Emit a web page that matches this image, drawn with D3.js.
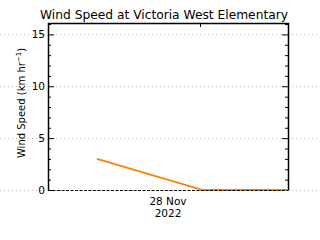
<!DOCTYPE html>
<html>
<head>
<meta charset="UTF-8" />
<script src="https://d3js.org/d3.v7.min.js"></script>
<style>
	body { margin: 0; background: #fff; }
	text { font-family: "DejaVu Sans", sans-serif; fill: #000; }
</style>
</head>
<body>
<svg id="chart" width="320" height="240"></svg>
<script>
// data, hours from start of plotted window
var hours = [4.9, 15.5, 24]
var speeds = [3, 0, 0]
var yTicks = [0, 5, 10, 15]
var yMinor = d3.range(0, 17, 1)
var dayTickHour = [15.2]
var dayLabelHour = 12
var dayLabel = ["28 Nov", "2022"]
var title = "Wind Speed at Victoria West Elementary"

var svg = d3.select("#chart")
var pLeft = 48, pRight = 288, pTop = 23, pBottom = 190

var x = d3.scaleLinear().domain([0, 24]).range([pLeft, pRight])
var y = d3.scaleLinear().domain([0, 16.1]).range([pBottom, pTop])

// dotted grid across whole width
svg.selectAll(".grid").data(yTicks).enter().append("line")
	.attr("x1", 0).attr("x2", 320)
	.attr("y1", d => Math.round(y(d)) + 0.5).attr("y2", d => Math.round(y(d)) + 0.5)
	.attr("stroke", "#bbb").attr("stroke-dasharray", "1,3")

// left / right axes with minor ticks
var gl = svg.append("g").attr("transform", "translate(" + pLeft + ",0)")
	.call(d3.axisRight(y).tickValues(yMinor).tickSize(3).tickFormat(""))
gl.selectAll(".tick").filter(d => d % 5 == 0).select("line").attr("x2", 6)
gl.select(".domain").remove()
var gr = svg.append("g").attr("transform", "translate(" + pRight + ",0)")
	.call(d3.axisLeft(y).tickValues(yMinor).tickSize(3).tickFormat(""))
gr.selectAll(".tick").filter(d => d % 5 == 0).select("line").attr("x2", -6)
gr.select(".domain").remove()
svg.selectAll(".tick line").attr("stroke", "#000").attr("stroke-width", 1)

// box
svg.append("path")
	.attr("d", "M" + (pLeft + 0.5) + "," + (pBottom + 0.5) + "V" + (pTop + 0.5) + "H" + (pRight + 0.5) + "V" + (pBottom + 0.5))
	.attr("fill", "none").attr("stroke", "#000").attr("stroke-width", 1.5)

// y labels
svg.selectAll(".ylab").data(yTicks).enter().append("text")
	.attr("x", pLeft - 3).attr("y", d => y(d) + 4)
	.attr("text-anchor", "end").attr("font-size", 10.5)
	.text(d => d)

// top day tick
svg.selectAll(".dtick").data(dayTickHour).enter().append("line")
	.attr("x1", d => Math.round(x(d)) + 0.5).attr("x2", d => Math.round(x(d)) + 0.5)
	.attr("y1", pTop).attr("y2", pTop + 4).attr("stroke", "#000")

// data line
var line = d3.line().x((d, i) => x(hours[i])).y(d => y(d))
svg.append("path").datum(speeds)
	.attr("d", line).attr("fill", "none")
	.attr("stroke", "#ff8000").attr("stroke-width", 1.8)

// dashed zero line
svg.append("line")
	.attr("x1", pLeft).attr("x2", pRight)
	.attr("y1", pBottom + 0.5).attr("y2", pBottom + 0.5)
	.attr("stroke", "#000").attr("stroke-dasharray", "3,1.5")

// x label
svg.selectAll(".xlab").data(dayLabel).enter().append("text")
	.attr("x", x(dayLabelHour)).attr("y", (d, i) => 205 + i * 11.5)
	.attr("text-anchor", "middle").attr("font-size", 10.5)
	.text(d => d)

// title
svg.append("text").attr("x", 164).attr("y", 19)
	.attr("text-anchor", "middle").attr("font-size", 12.5)
	.attr("textLength", 248).attr("lengthAdjust", "spacingAndGlyphs")
	.text(title)

// y axis title
var yt = svg.append("text")
	.attr("transform", "translate(25,103) rotate(-90)")
	.attr("text-anchor", "middle").attr("font-size", 10)
yt.append("tspan").text("Wind Speed (km hr")
yt.append("tspan").attr("dy", -4).attr("font-size", 7).text("−1")
yt.append("tspan").attr("dy", 4).text(")")
</script>
</body>
</html>
